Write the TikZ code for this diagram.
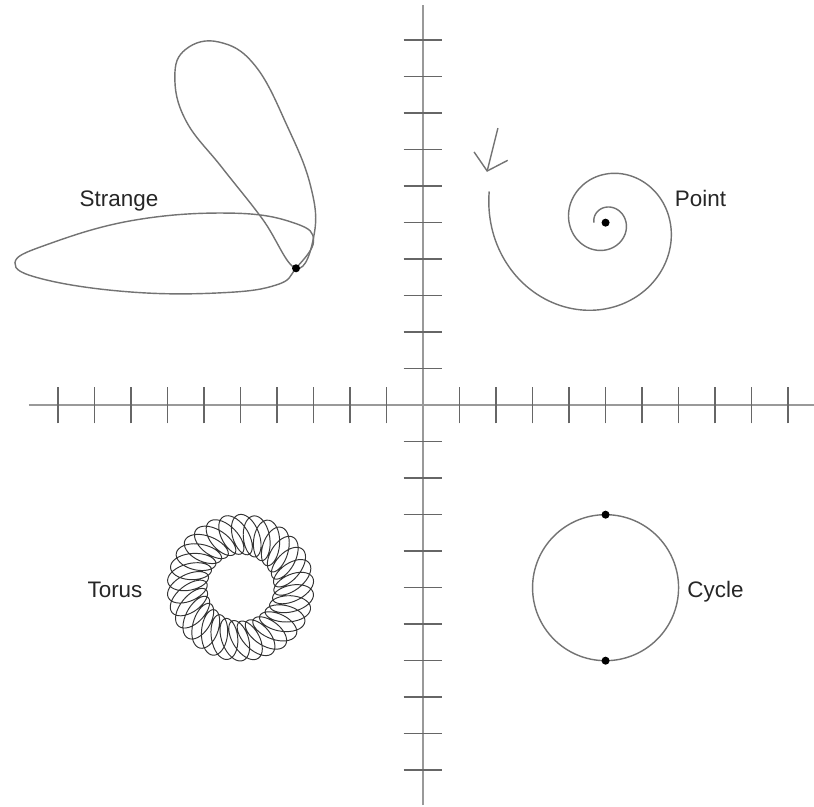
\documentclass[tikz,border=0pt]{standalone}
\usepackage{fontspec}
\setmainfont{Liberation Sans}
\usetikzlibrary{arrows.meta,positioning}

\begin{document}
\begin{tikzpicture}[
        every node/.style={font=\fontsize{17.5}{20}\selectfont},
        ax/.style={draw=black!40, line width=1.6pt},
        tk/.style={draw=black!60, line width=1.1pt},
        crv/.style={draw=black!55, line width=1.1pt},
        dt/.style={circle, fill=black, inner sep=0pt, minimum size=2.2mm},
        lbl/.style={anchor=base, text=black!85},
    ]
    \useasboundingbox (-11.59,-10.99) rectangle (10.71,11.10);
    % axes and ticks
    \coordinate (xl) at (-10.8,0);
    \coordinate (xr) at (10.71,0);
    \coordinate (yb) at (0,-10.96);
    \coordinate (yt) at (0,10.96);
    \draw[ax] (xl) -- (xr);
    \draw[ax] (yb) -- (yt);
    \foreach \i in {-10,...,-1,1,2,...,10} {
        \draw[tk] (\i,-0.5) -- (\i,0.5);
        \draw[tk] (-0.53,\i) -- (0.53,\i);
    }
    % strange attractor
    \draw[crv] plot[smooth cycle, tension=0.7] coordinates {
        (-3.48,3.75) (-3.0,4.5) (-3.5,4.98) (-5.2,5.26) (-7.9,5.07)
        (-10.3,4.4) (-11.18,3.9) (-10.4,3.45) (-8.0,3.1) (-5.5,3.08)
        (-4.0,3.3)};
    \draw[crv] plot[smooth cycle, tension=0.7] coordinates {
        (-3.48,3.75) (-2.98,4.7) (-3.08,6.0) (-3.7,7.6) (-4.6,9.3)
        (-5.6,9.95) (-6.5,9.75) (-6.8,9.0) (-6.5,7.8) (-5.5,6.5)
        (-4.4,5.1)};
    \node[dt] (sdot) at (-3.48,3.75) {};
    \node[lbl] (strange) at (-8.33,5.43) {Strange};
    % point attractor
    \draw[crv] plot[domain=165:900, samples=300, smooth]
        ({5+3.3*exp(-0.0031965*(\x-165))*cos(\x)},
         {5+3.3*exp(-0.0031965*(\x-165))*sin(\x)});
    \coordinate (atail) at (2.05,7.59);
    \coordinate (ahead) at (1.75,6.39);
    \draw[crv, -{Straight Barb[length=4.2mm, width=9.5mm]}] (atail) -- (ahead);
    \node[dt] (pdot) at (5,5) {};
    \node[lbl] (point) at (7.60,5.43) {Point};
    % torus
    \draw[black!80, line width=0.75pt] plot[domain=0:360, samples=1080, smooth]
        ({-5+(1.45+0.55*cos(30*\x))*cos(\x)-0.36*sin(30*\x+30)*sin(\x)},
         {-5+(1.45+0.55*cos(30*\x))*sin(\x)+0.36*sin(30*\x+30)*cos(\x)});
    \node[lbl] (torus) at (-8.44,-5.26) {Torus};
    % limit cycle
    \draw[crv] (5,-5) circle[radius=2];
    \node[dt] (ctop) at (5,-3) {};
    \node[dt] (cbot) at (5,-7) {};
    \node[lbl] (cycle) at (8.01,-5.26) {Cycle};
\end{tikzpicture}
\end{document}
